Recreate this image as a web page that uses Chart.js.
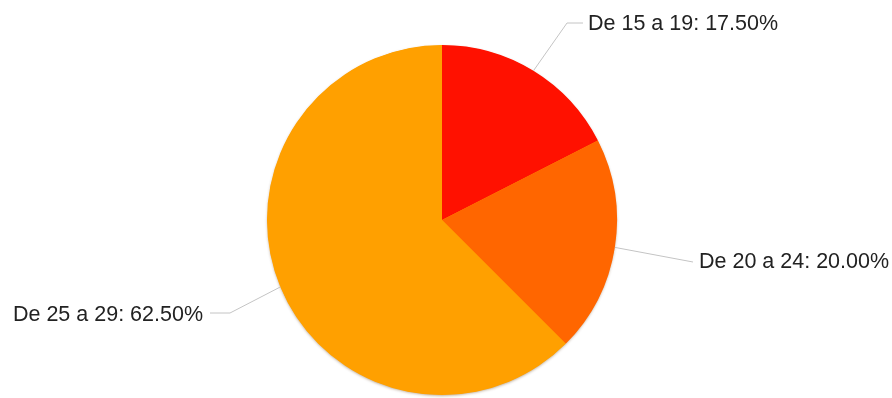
<!DOCTYPE html>
<html>
<head>
<meta charset="utf-8">
<title>Distribución por edad</title>
<script src="https://cdn.jsdelivr.net/npm/chart.js@4/dist/chart.umd.min.js"></script>
<style>
  html, body { margin: 0; padding: 0; background: #fff; }
  #wrap { width: 892px; height: 398px; position: relative; }
</style>
</head>
<body>
<div id="wrap"><canvas id="pie" width="892" height="398"></canvas></div>
<script>
// Age groups and their share (%)
const categories = ['De 15 a 19', 'De 20 a 24', 'De 25 a 29'];
const shares = [17.5, 20.0, 62.5];
const sliceColors = ['#ff1100', '#ff6600', '#ffa000'];

// Where each callout's leader line bends and where its text sits
const calloutLayout = [
  { elbow: [567, 23], end: [583, 23], textX: 588, textY: 24, align: 'left' },
  { elbow: null,      end: [693, 262], textX: 699, textY: 262, align: 'left' },
  { elbow: [230, 313], end: [210, 313], textX: 203, textY: 315, align: 'right' }
];

// Soft drop shadow under the whole pie
const pieShadow = {
  id: 'pieShadow',
  beforeDatasetsDraw(chart) {
    const arc = chart.getDatasetMeta(0).data[0];
    if (!arc) return;
    const ctx = chart.ctx;
    ctx.save();
    ctx.shadowColor = 'rgba(90,50,0,0.45)';
    ctx.shadowBlur = 3;
    ctx.shadowOffsetY = 1.2;
    ctx.beginPath();
    ctx.arc(arc.x, arc.y, arc.outerRadius - 0.5, 0, Math.PI * 2);
    ctx.fillStyle = sliceColors[2];
    ctx.fill();
    ctx.restore();
  }
};

// Leader lines and "label: value%" callouts
const callouts = {
  id: 'callouts',
  afterDatasetsDraw(chart) {
    const ctx = chart.ctx;
    const meta = chart.getDatasetMeta(0);
    const values = chart.data.datasets[0].data;
    const total = values.reduce((a, b) => a + b, 0);
    meta.data.forEach((arc, i) => {
      const lay = calloutLayout[i];
      const mid = (arc.startAngle + arc.endAngle) / 2;
      const sx = arc.x + Math.cos(mid) * arc.outerRadius;
      const sy = arc.y + Math.sin(mid) * arc.outerRadius;
      ctx.save();
      ctx.strokeStyle = '#c4c4c4';
      ctx.lineWidth = 1;
      ctx.beginPath();
      ctx.moveTo(sx, sy);
      if (lay.elbow) ctx.lineTo(lay.elbow[0], lay.elbow[1]);
      ctx.lineTo(lay.end[0], lay.end[1]);
      ctx.stroke();
      const pct = (values[i] / total * 100).toFixed(2);
      ctx.font = '21.5px "Liberation Sans", Arial, sans-serif';
      ctx.fillStyle = '#222';
      ctx.textAlign = lay.align;
      ctx.textBaseline = 'middle';
      ctx.fillText(chart.data.labels[i] + ': ' + pct + '%', lay.textX, lay.textY);
      ctx.restore();
    });
  }
};

new Chart(document.getElementById('pie'), {
  type: 'pie',
  data: {
    labels: categories,
    datasets: [{
      data: shares,
      backgroundColor: sliceColors,
      borderWidth: 0
    }]
  },
  options: {
    responsive: false,
    animation: false,
    layout: { padding: { top: 45, bottom: 3, left: 0, right: 8 } },
    plugins: {
      legend: { display: false },
      tooltip: { enabled: false }
    }
  },
  plugins: [pieShadow, callouts]
});
</script>
</body>
</html>
